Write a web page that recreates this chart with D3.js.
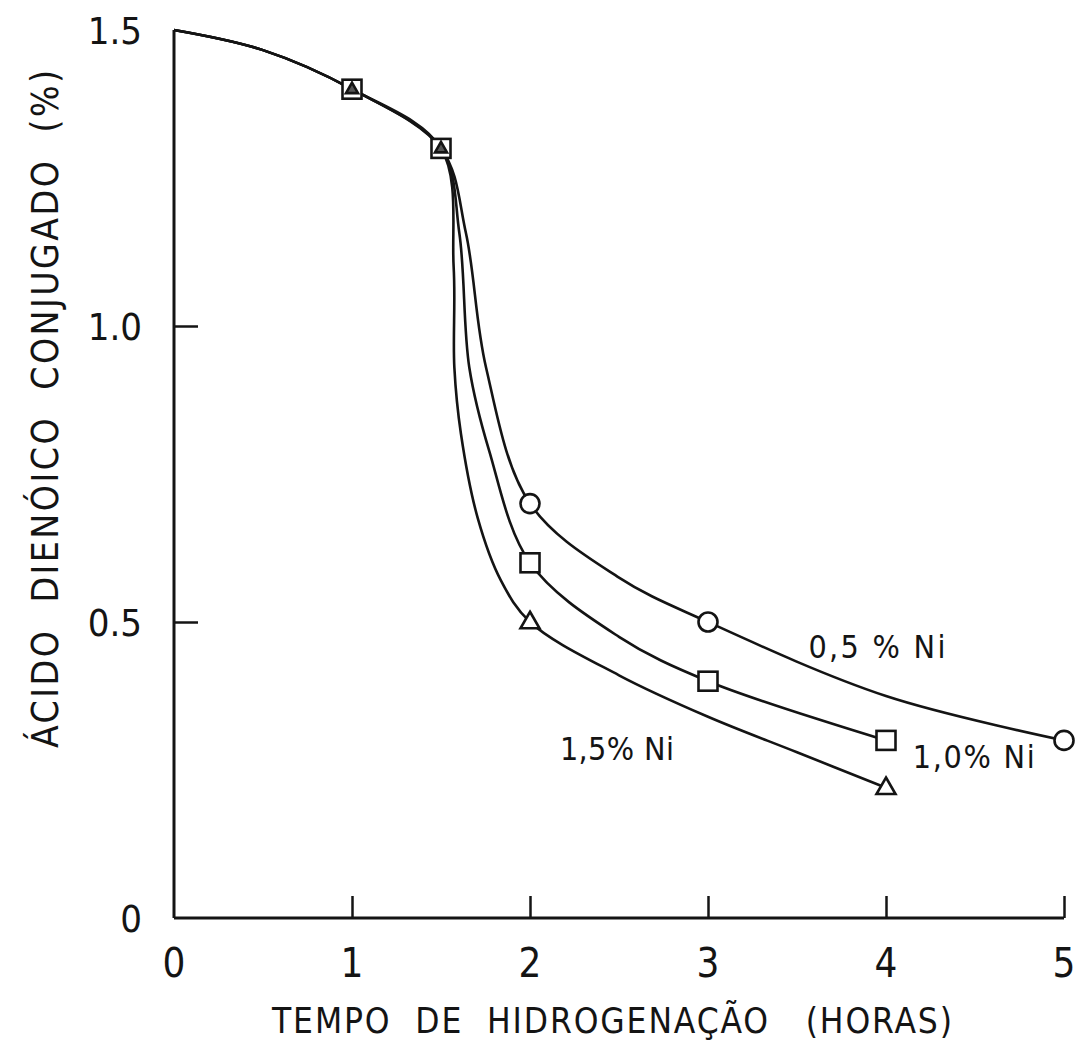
<!DOCTYPE html>
<html><head><meta charset="utf-8">
<script src="https://cdn.jsdelivr.net/npm/d3@7"></script>
<style>body{margin:0;background:#fff}</style>
</head><body><svg id="c" width="1082" height="1042"></svg>
<script>
// ---- data ----
const xTickValues = [0, 1, 2, 3, 4, 5];
const xTickLabels = ["0", "1", "2", "3", "4", "5"];
const yTickValues = [0, 0.5, 1.0, 1.5];
const yTickLabels = ["0", "0.5", "1.0", "1.5"];
const xTitle = "TEMPO  DE  HIDROGENAÇÃO   (HORAS)";
const yTitle = "ÁCIDO  DIENÓICO  CONJUGADO  (%)";
const seriesNames = ["0,5 % Ni", "1,0% Ni", "1,5% Ni"];

// measured points (markers)
const sharedPoints = [[1, 1.40], [1.5, 1.30]];
const ni05Points = [[2, 0.70], [3, 0.50], [5, 0.30]];
const ni10Points = [[2, 0.60], [3, 0.40], [4, 0.30]];
const ni15Points = [[2, 0.50], [4, 0.22]];

// drawn curve
const sharedCurve = [[0, 1.50], [0.5, 1.466], [1, 1.40], [1.5, 1.30]];
const ni05Curve = [[1.64, 1.157], [1.753, 0.930], [2, 0.70], [2.5, 0.575], [3, 0.50], [4, 0.375], [5, 0.30]];
const ni10Curve = [[1.603, 1.157], [1.659, 0.930], [1.77, 0.79], [2, 0.60], [2.5, 0.475], [3, 0.40], [4, 0.30]];
const ni15Curve = [[1.571, 1.10], [1.575, 0.930], [1.612, 0.818], [1.706, 0.676], [1.837, 0.570], [2, 0.50], [2.5, 0.41], [3, 0.34], [3.5, 0.28], [4, 0.22]];

// ---- drawing ----
const FONT = "'Liberation Sans Narrow','DejaVu Sans Condensed','Liberation Sans',sans-serif";
const INK = "#141414";
const svg = d3.select("#c");
const x = d3.scaleLinear().domain([0, 5]).range([174, 1064]);
const y = d3.scaleLinear().domain([0, 1.5]).range([918, 30]);

// axes
const xAxis = svg.append("g").attr("transform", `translate(0,${y(0)})`)
  .call(d3.axisBottom(x).tickValues(xTickValues.slice(1)).tickSize(-22).tickFormat(""));
const yAxis = svg.append("g").attr("transform", `translate(${x(0)},0)`)
  .call(d3.axisLeft(y).tickValues([0.5, 1.0]).tickSize(-24).tickFormat(""));
[xAxis, yAxis].forEach(g => {
  g.select(".domain").attr("stroke", INK).attr("stroke-width", 3);
  g.selectAll(".tick line").attr("stroke", INK).attr("stroke-width", 2.5);
});
xAxis.select(".domain").attr("d", `M${x(0)},0H${x(5)}`);
yAxis.select(".domain").attr("d", `M0,${y(0)}V${y(1.5)}`);

// tick labels
svg.append("g").selectAll("text").data(xTickValues).join("text")
  .attr("x", d => x(d)).attr("y", 977)
  .attr("text-anchor", "middle").attr("font-family", FONT).attr("font-size", 40)
  .attr("fill", INK).text((d, i) => xTickLabels[i]);
svg.append("g").selectAll("text").data(yTickValues).join("text")
  .attr("x", 142).attr("y", d => y(d) + 14)
  .attr("text-anchor", "end").attr("font-family", FONT).attr("font-size", 38)
  .attr("fill", INK).text((d, i) => yTickLabels[i]);

// axis titles
svg.append("text").attr("x", 612).attr("y", 1033)
  .attr("text-anchor", "middle").attr("font-family", FONT).attr("font-size", 35)
  .attr("fill", INK).attr("textLength", 680).attr("lengthAdjust", "spacing")
  .style("white-space", "pre").text(xTitle);
svg.append("text").attr("transform", "translate(58,409) rotate(-90)")
  .attr("text-anchor", "middle").attr("font-family", FONT).attr("font-size", 37)
  .attr("fill", INK).attr("textLength", 678).attr("lengthAdjust", "spacing")
  .style("white-space", "pre").text(yTitle);

// curves
const line = d3.line().x(d => x(d[0])).y(d => y(d[1])).curve(d3.curveCatmullRom.alpha(0.5));
[ni05Curve, ni10Curve, ni15Curve].forEach(c => {
  svg.append("path").datum(sharedCurve.concat(c)).attr("d", line)
    .attr("fill", "none").attr("stroke", INK).attr("stroke-width", 2.6);
});

// markers
const S = 19;
const triPath = (s) => ([px, py]) => {
  const cx = x(px), cy = y(py), h = s * 0.87;
  return `M${cx},${cy - h * 0.62}L${cx + s / 2},${cy + h * 0.38}L${cx - s / 2},${cy + h * 0.38}Z`;
};
const mk = svg.append("g").attr("stroke", INK).attr("stroke-width", 2.6).attr("fill", "#fff");
mk.selectAll("rect.s").data(sharedPoints.concat(ni10Points)).join("rect").attr("class", "s")
  .attr("x", d => x(d[0]) - S / 2).attr("y", d => y(d[1]) - S / 2).attr("width", S).attr("height", S);
mk.selectAll("path.ts").data(sharedPoints).join("path").attr("class", "ts")
  .attr("d", triPath(12)).attr("fill", "#555");
mk.selectAll("path.t").data(ni15Points).join("path").attr("class", "t")
  .attr("d", triPath(S));
mk.selectAll("circle").data(ni05Points).join("circle")
  .attr("cx", d => x(d[0])).attr("cy", d => y(d[1])).attr("r", 9.5);

// series labels
const lab = [[3.564, 0.44, 137], [4.15, 0.254, 122], [2.168, 0.267, 114]];
svg.append("g").selectAll("text").data(seriesNames).join("text")
  .attr("x", (d, i) => x(lab[i][0])).attr("y", (d, i) => y(lab[i][1]))
  .attr("font-family", FONT).attr("font-size", 32).attr("fill", INK)
  .attr("textLength", (d, i) => lab[i][2]).attr("lengthAdjust", "spacing")
  .style("white-space", "pre").text(d => d);
</script></body></html>
